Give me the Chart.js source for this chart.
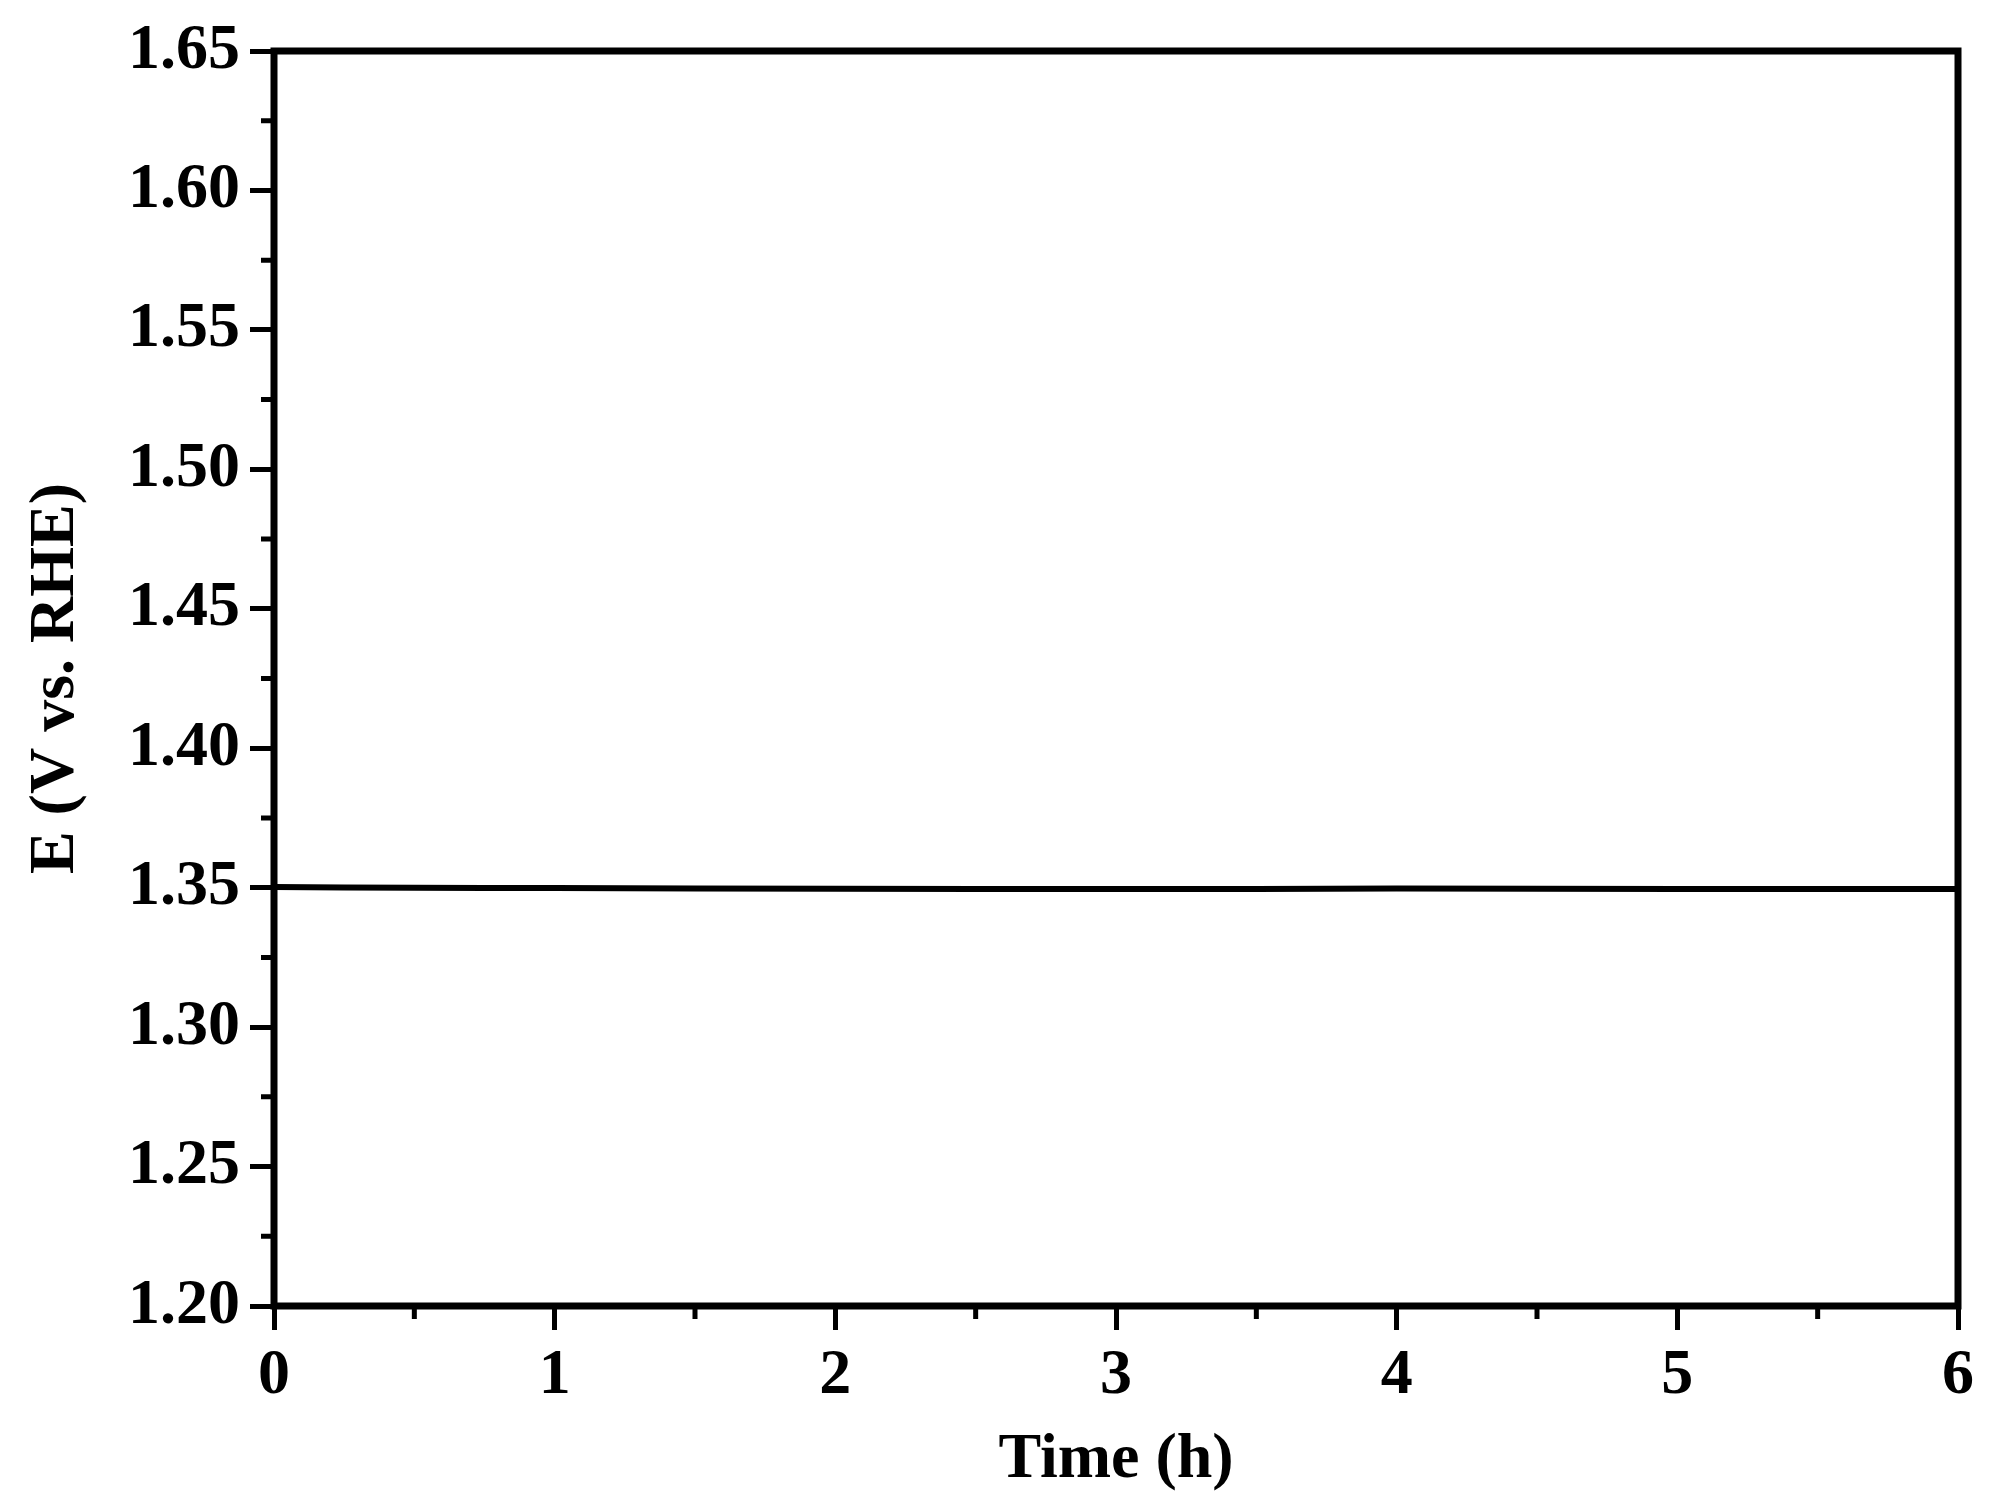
<!DOCTYPE html><html><head><meta charset="utf-8">
<script src="https://cdn.jsdelivr.net/npm/chart.js@4"></script>
<style>html,body{margin:0;padding:0;background:#fff}#w{width:1998px;height:1503px}</style></head><body><div id="w"><canvas id="c"></canvas></div>
<script>
const timeH=[0,0.25,0.5,0.75,1,1.5,2,2.5,3,3.5,4,4.5,5,5.5,6];
const potential=[1.3502,1.3501,1.3500,1.3499,1.3499,1.3497,1.3496,1.3495,1.3495,1.3495,1.3497,1.3496,1.3495,1.3495,1.3495];
const xTicks=[0,1,2,3,4,5,6];
const yTicks=[1.20,1.25,1.30,1.35,1.40,1.45,1.50,1.55,1.60,1.65];
const font={family:'"Liberation Serif","Times New Roman",serif',weight:'bold',size:64};
const frame={id:'frame',afterDraw(ch){const {ctx,chartArea:a,scales:{x,y}}=ch;ctx.save();ctx.strokeStyle='#000';ctx.lineWidth=7;ctx.strokeRect(a.left,a.top,a.right-a.left,a.bottom-a.top);
ctx.lineWidth=5;ctx.beginPath();for(let v=0.5;v<6;v+=1){const p=x.getPixelForValue(v);ctx.moveTo(p,a.bottom);ctx.lineTo(p,a.bottom+13);}
for(let v=1.225;v<1.65;v+=0.05){const p=y.getPixelForValue(v);ctx.moveTo(a.left,p);ctx.lineTo(a.left-13,p);}ctx.stroke();ctx.restore();}};
new Chart(document.getElementById('c'),{type:'line',data:{datasets:[{data:timeH.map((t,i)=>({x:t,y:potential[i]})),borderColor:'#000',borderWidth:6,pointRadius:0,tension:0}]},
options:{responsive:true,maintainAspectRatio:false,animation:false,layout:{padding:{top:51,right:40,left:0,bottom:0}},plugins:{legend:{display:false},tooltip:{enabled:false}},
scales:{x:{type:'linear',min:0,max:6,afterBuildTicks(s){s.ticks=xTicks.map(v=>({value:v}))},afterFit(s){s.height=197},border:{display:false},grid:{drawOnChartArea:false,tickLength:24,tickWidth:5,tickColor:'#000'},ticks:{color:'#000',font,padding:8,callback:v=>String(v)},title:{display:true,text:'Time (h)',color:'#000',font,padding:{top:-8}}},
y:{type:'linear',min:1.2,max:1.65,afterBuildTicks(s){s.ticks=yTicks.map(v=>({value:v}))},afterFit(s){s.width=274},border:{display:false},grid:{drawOnChartArea:false,tickLength:24,tickWidth:5,tickColor:'#000'},ticks:{color:'#000',font,padding:10,callback:v=>v.toFixed(2)},title:{display:true,text:'E (V vs. RHE)',color:'#000',font,padding:{top:18,bottom:0}}}}},plugins:[frame]});
</script></body></html>
